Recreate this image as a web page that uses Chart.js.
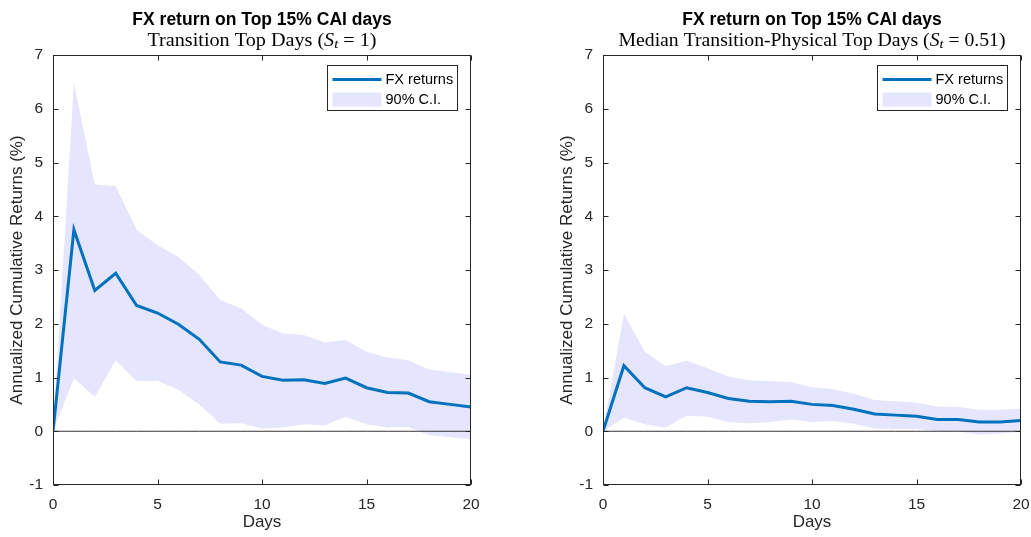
<!DOCTYPE html>
<html>
<head>
<meta charset="utf-8">
<script src="https://cdn.jsdelivr.net/npm/chart.js@4.4.0/dist/chart.umd.min.js"></script>
<style>
  html, body { margin: 0; padding: 0; background: #fff; }
  #wrap { position: relative; width: 1031px; height: 537px; overflow: hidden; }
  canvas { position: absolute; top: 0; }
  #c1 { left: 0; }
  #c2 { left: 550px; }
</style>
</head>
<body>
<div id="wrap">
  <canvas id="c1" width="515" height="537"></canvas>
  <canvas id="c2" width="481" height="537"></canvas>
</div>
<script>
// data
const days = [0, 1, 2, 3, 4, 5, 6, 7, 8, 9, 10, 11, 12, 13, 14, 15, 16, 17, 18, 19, 20];

const fxTransition = [0, 3.75, 2.62, 2.94, 2.34, 2.20, 1.99, 1.71, 1.29, 1.23, 1.02, 0.95, 0.96, 0.89, 0.99, 0.81, 0.72, 0.71, 0.55, 0.50, 0.45];
const upTransition = [0, 6.48, 4.59, 4.56, 3.75, 3.46, 3.24, 2.91, 2.44, 2.29, 1.98, 1.82, 1.79, 1.65, 1.70, 1.48, 1.37, 1.32, 1.15, 1.10, 1.05];
const loTransition = [0, 0.98, 0.64, 1.32, 0.93, 0.94, 0.77, 0.50, 0.14, 0.15, 0.05, 0.07, 0.13, 0.11, 0.27, 0.13, 0.07, 0.08, -0.07, -0.11, -0.15];

const fxMedian = [0, 1.22, 0.81, 0.64, 0.81, 0.72, 0.61, 0.56, 0.55, 0.56, 0.50, 0.48, 0.41, 0.32, 0.30, 0.28, 0.22, 0.22, 0.17, 0.17, 0.20];
const upMedian = [0, 2.19, 1.48, 1.21, 1.31, 1.17, 1.02, 0.95, 0.93, 0.91, 0.82, 0.78, 0.70, 0.58, 0.56, 0.53, 0.46, 0.45, 0.40, 0.40, 0.42];
const loMedian = [0, 0.25, 0.13, 0.07, 0.29, 0.27, 0.17, 0.15, 0.17, 0.22, 0.17, 0.19, 0.14, 0.05, 0.04, 0.04, 0.00, 0.00, -0.06, -0.04, -0.01];

const yTicks = [-1, 0, 1, 2, 3, 4, 5, 6, 7];
const xTicks = [0, 5, 10, 15, 20];

const mainTitle = "FX return on Top 15% CAI days";
const yTitle = "Annualized Cumulative Returns (%)";
const xTitle = "Days";
const legendLabels = ["FX returns", "90% C.I."];

const lineColor = "#0072BD";
const bandColor = "rgb(229,229,253)";
const axisColor = "#262626";
const SANS = '"Liberation Sans", Arial, sans-serif';
const SERIF = '"Liberation Serif", "Times New Roman", serif';

function pts(arr) {
  return days.map((d, i) => ({ x: d, y: arr[i] }));
}

// frame, inward ticks, titles and legend
const panelPlugin = {
  id: "panel",
  afterDraw(chart, args, opts) {
    const ctx = chart.ctx;
    const a = chart.chartArea;
    const xs = chart.scales.x, ys = chart.scales.y;
    const L = Math.round(a.left) + 0.5, R = Math.round(a.right) - 0.5;
    const T = Math.round(a.top) + 0.5, B = Math.round(a.bottom) - 0.5;
    ctx.save();
    ctx.strokeStyle = axisColor;
    ctx.lineWidth = 1;
    ctx.strokeRect(L, T, R - L, B - T);
    ctx.beginPath();
    xTicks.forEach(v => {
      const px = Math.round(xs.getPixelForValue(v)) + 0.5;
      ctx.moveTo(px, B); ctx.lineTo(px, B - 5);
      ctx.moveTo(px, T); ctx.lineTo(px, T + 5);
    });
    yTicks.forEach(v => {
      const py = Math.round(ys.getPixelForValue(v)) + 0.5;
      ctx.moveTo(L, py); ctx.lineTo(L + 5, py);
      ctx.moveTo(R, py); ctx.lineTo(R - 5, py);
    });
    ctx.stroke();

    // titles
    const cx = (a.left + a.right) / 2;
    ctx.fillStyle = "#000";
    ctx.textAlign = "center";
    ctx.textBaseline = "middle";
    ctx.font = "bold 17.5px " + SANS;
    ctx.fillText(mainTitle, cx, 20);

    const parts = [
      [opts.subtitle + " (", "18px " + SERIF, 0],
      ["S", "italic 18px " + SERIF, 0],
      ["t", "italic 13px " + SERIF, 4],
      [" = " + opts.value + ")", "18px " + SERIF, 0]
    ];
    let w = 0;
    parts.forEach(p => { ctx.font = p[1]; w += ctx.measureText(p[0]).width; });
    const sx = opts.subWidth / w;
    ctx.save();
    ctx.translate(cx - opts.subWidth / 2, 41);
    ctx.scale(sx, 1);
    ctx.textAlign = "left";
    ctx.textBaseline = "middle";
    let x = 0;
    parts.forEach(p => {
      ctx.font = p[1];
      ctx.fillText(p[0], x, p[2]);
      x += ctx.measureText(p[0]).width;
    });
    ctx.restore();

    // legend
    const bw = 130, bh = 45;
    const bx = Math.round(a.right) - 14 - bw + 0.5, by = Math.round(a.top) + 10 + 0.5;
    ctx.fillStyle = "#fff";
    ctx.fillRect(bx, by, bw, bh);
    ctx.strokeStyle = axisColor;
    ctx.strokeRect(bx, by, bw, bh);
    ctx.strokeStyle = lineColor;
    ctx.lineWidth = 3;
    ctx.beginPath();
    ctx.moveTo(bx + 5, by + 14); ctx.lineTo(bx + 54, by + 14);
    ctx.stroke();
    ctx.fillStyle = bandColor;
    ctx.fillRect(bx + 5, by + 27, 49, 14);
    ctx.fillStyle = "#000";
    ctx.font = "14.5px " + SANS;
    ctx.textAlign = "left";
    ctx.textBaseline = "middle";
    ctx.fillText(legendLabels[0], bx + 58, by + 14);
    ctx.fillText(legendLabels[1], bx + 58, by + 34);
    ctx.restore();
  }
};

function makeChart(id, fx, up, lo, subtitle, value, subWidth, rightPad) {
  const zero = days.map(() => 0);
  return new Chart(document.getElementById(id), {
    type: "line",
    data: {
      datasets: [
        { label: legendLabels[0], data: pts(fx), borderColor: lineColor, borderWidth: 3, pointRadius: 0, fill: false, tension: 0 },
        { label: "zero", data: pts(zero), borderColor: "#000", borderWidth: 0.8, pointRadius: 0, fill: false },
        { label: legendLabels[1], data: pts(up), borderWidth: 0, borderColor: bandColor, backgroundColor: bandColor, pointRadius: 0, fill: "+1" },
        { label: "lower", data: pts(lo), borderWidth: 0, borderColor: bandColor, pointRadius: 0, fill: false }
      ]
    },
    options: {
      responsive: false,
      animation: false,
      layout: { padding: { top: 55, right: rightPad, left: 0, bottom: 0 } },
      plugins: {
        legend: { display: false },
        tooltip: { enabled: false },
        panel: { subtitle: subtitle, value: value, subWidth: subWidth }
      },
      scales: {
        x: {
          type: "linear",
          min: 0, max: 20,
          afterFit: s => { s.height = 52; s.paddingLeft = 0; s.paddingRight = 0; },
          afterBuildTicks: s => { s.ticks = xTicks.map(v => ({ value: v })); },
          grid: { display: false, drawTicks: false },
          border: { display: false },
          ticks: { color: axisColor, padding: 10, maxRotation: 0, font: { family: SANS, size: 15.5 } },
          title: { display: true, text: xTitle, color: axisColor, padding: { top: 0, bottom: 4 }, font: { family: SANS, size: 17 } }
        },
        y: {
          min: -1, max: 7,
          afterFit: s => { s.width = 53; s.paddingTop = 0; s.paddingBottom = 0; },
          afterBuildTicks: s => { s.ticks = yTicks.map(v => ({ value: v })); },
          grid: { display: false, drawTicks: false },
          border: { display: false },
          ticks: { color: axisColor, padding: 10, font: { family: SANS, size: 15.5 } },
          title: { display: true, text: yTitle, color: axisColor, padding: { top: 7, bottom: 0 }, font: { family: SANS, size: 17 } }
        }
      }
    },
    plugins: [panelPlugin]
  });
}

makeChart("c1", fxTransition, upTransition, loTransition, "Transition Top Days", "1", 229, 44);
makeChart("c2", fxMedian, upMedian, loMedian, "Median Transition-Physical Top Days", "0.51", 387, 10);
</script>
</body>
</html>
